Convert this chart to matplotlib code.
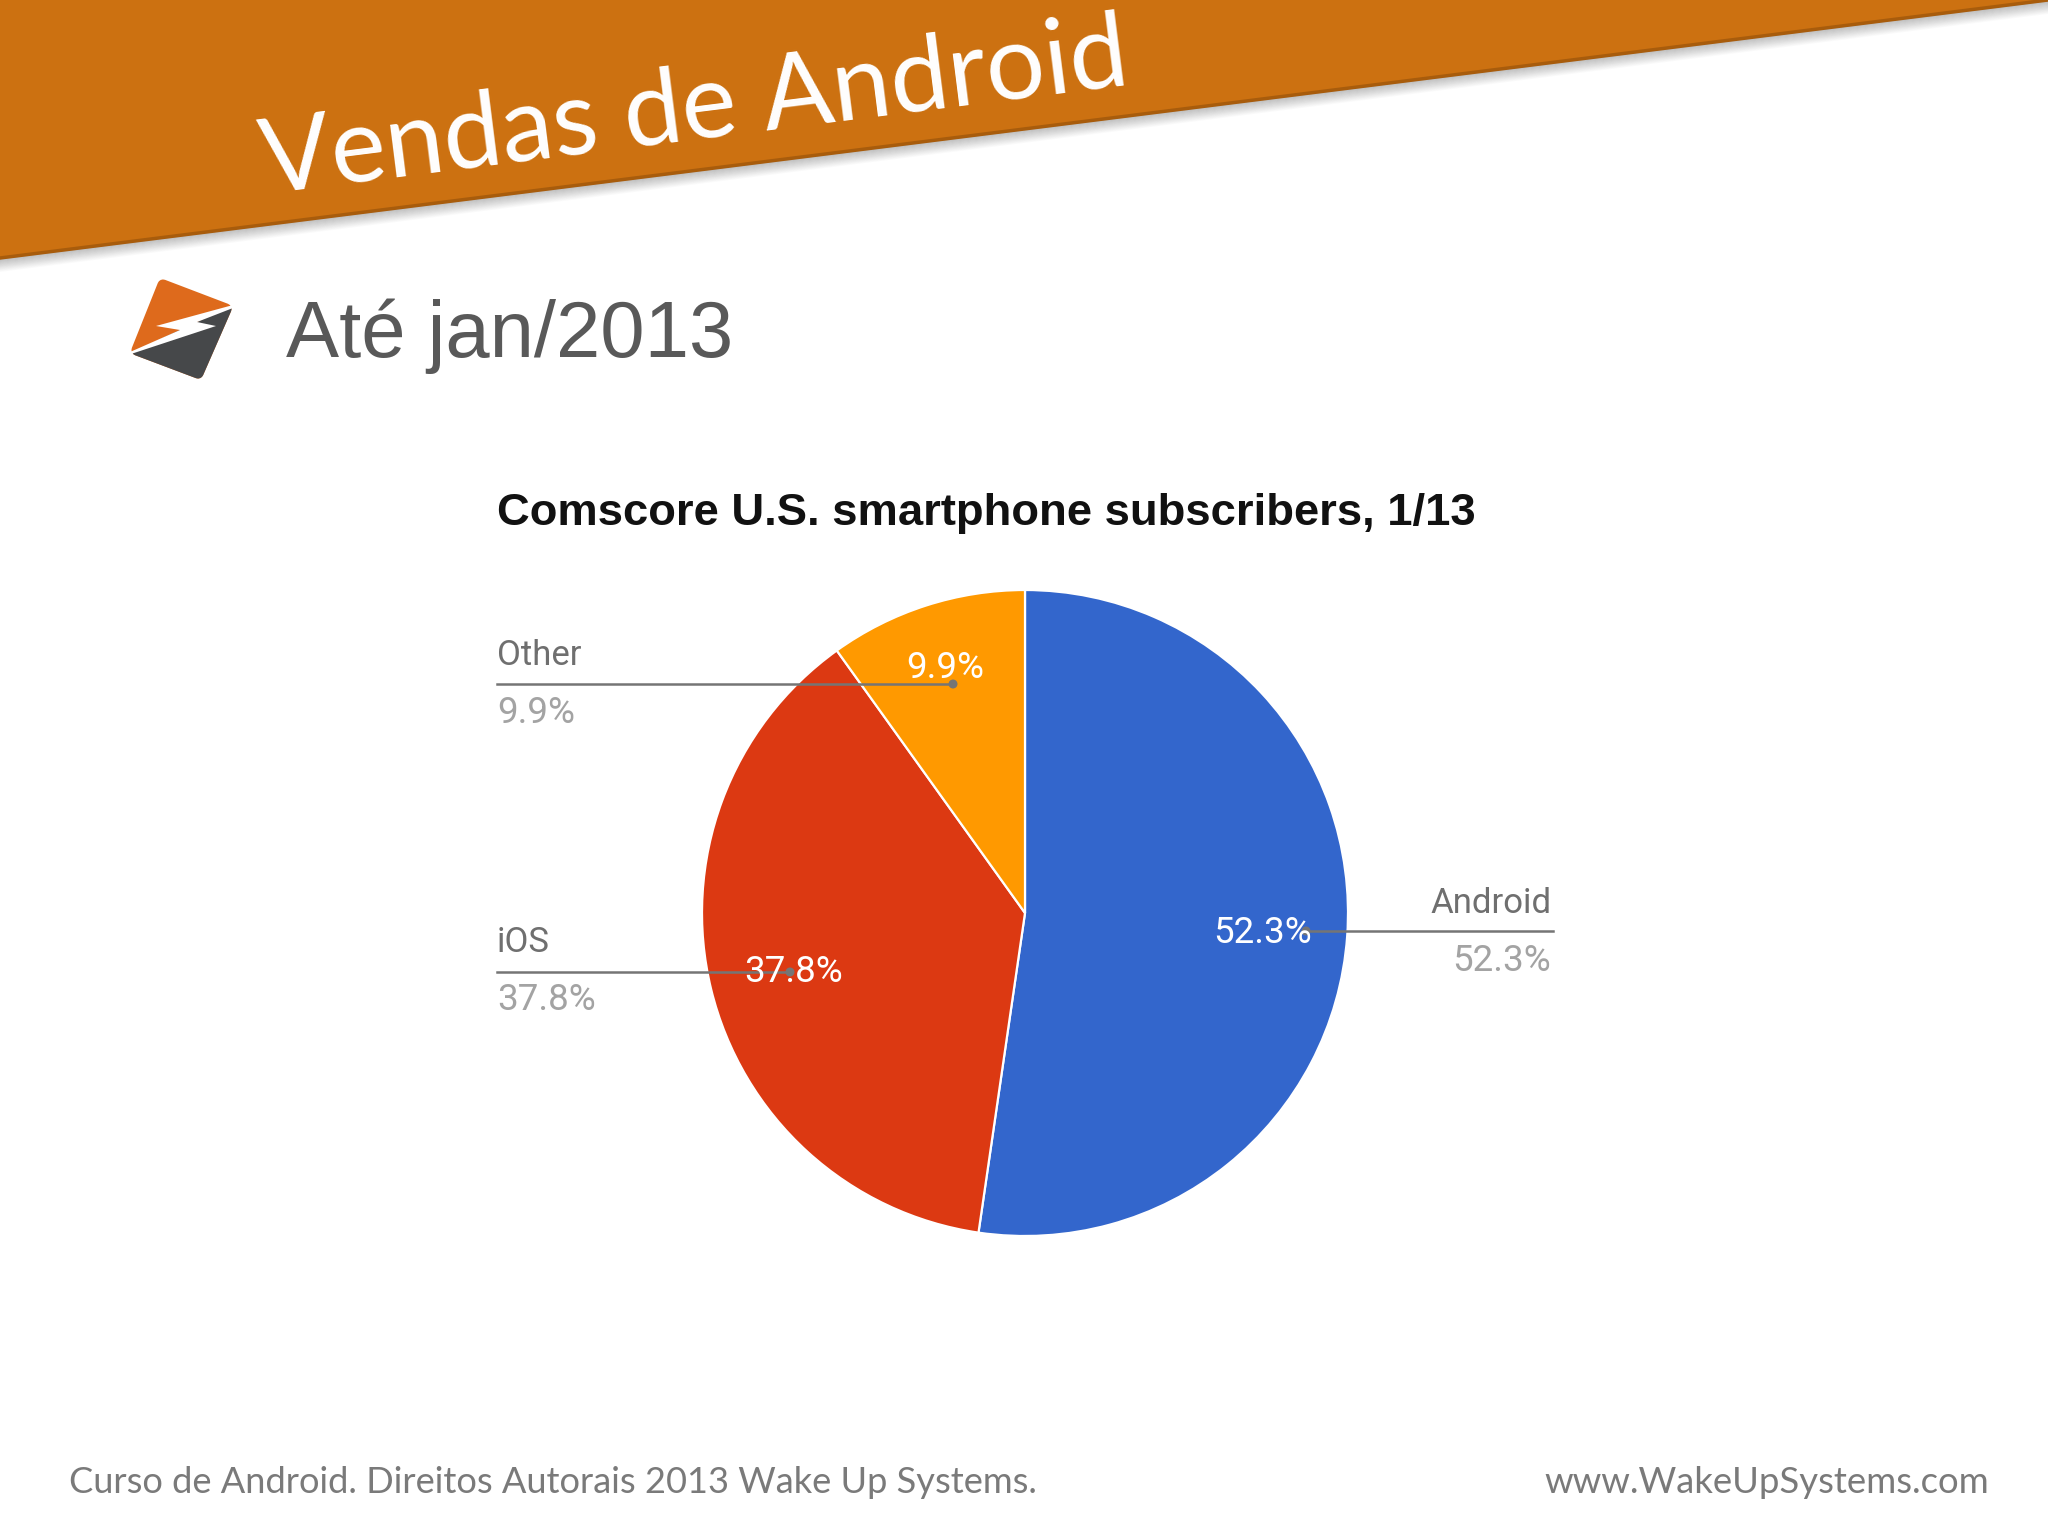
import matplotlib
matplotlib.use('Agg')
import matplotlib.pyplot as plt
from matplotlib.patches import Polygon, Circle

W, H = 2048, 1536

# dados do grafico
labels = ['Android', 'iOS', 'Other']
values = [52.3, 37.8, 9.9]
colors = ['#3366CC', '#DC3912', '#FF9900']

title = 'Vendas de Android'
subtitle = 'Até jan/2013'
chart_title = 'Comscore U.S. smartphone subscribers, 1/13'
footer_left = 'Curso de Android. Direitos Autorais 2013 Wake Up Systems.'
footer_right = 'www.WakeUpSystems.com'

fig = plt.figure(figsize=(W / 100, H / 100), dpi=100, facecolor='white')

# pizza, centro (1025, 913), raio 323 px
cx, cy, r = 1025, 913, 323
side = 2 * 1.25 * r
ax_pie = fig.add_axes([(cx - side / 2) / W, 1 - (cy + side / 2) / H, side / W, side / H])
ax_pie.pie(values, colors=colors, startangle=90, counterclock=False,
           wedgeprops={'edgecolor': 'white', 'linewidth': 1.6})

# camada em pixels para o resto do slide
ax = fig.add_axes([0, 0, 1, 1], zorder=5)
ax.set_xlim(0, W)
ax.set_ylim(H, 0)
ax.axis('off')
ax.patch.set_alpha(0)

# faixa laranja com sombra
for i in range(14):
    ax.add_patch(Polygon([(0, 258 + i), (W, 0 + i), (W, i + 1), (0, 259 + i)],
                         fc='black', ec='none', alpha=0.28 * (1 - i / 14)))
ax.add_patch(Polygon([(0, 0), (W, 0), (0, 258)], fc='#CC7111', ec='none'))
ax.plot([0, W], [258, 0], color='#A85C0C', lw=2.5)

ax.text(265, 194, title, color='white', fontsize=75, family='Lato',
        rotation=7.2, rotation_mode='anchor', ha='left', va='baseline')

# logo: losango arredondado, metade de baixo escura, raio branco por cima
diamond = [(163, 285), (226, 309), (198, 373), (137, 350)]
ax.add_patch(Polygon(diamond, fc='#DE6A1C', ec='#DE6A1C', lw=8, joinstyle='round'))
lower = ax.add_patch(Polygon(diamond, fc='#46484A', ec='#46484A', lw=8, joinstyle='round'))
clip = Polygon([(231, 306), (133, 352), (133, 420), (260, 420), (260, 306)],
               transform=ax.transData)
lower.set_clip_path(clip)
ax.add_patch(Polygon([(233, 305), (156, 326), (180, 330), (130, 352), (131, 354),
                      (216, 326), (197, 322), (233, 308)], fc='white', ec='none'))

ax.text(286, 357, subtitle, color='#595959', fontsize=57.3, family='Liberation Sans',
        ha='left', va='baseline')

ax.text(497, 525, chart_title, color='#111111', fontsize=32.7, fontweight='bold',
        family='Liberation Sans', ha='left', va='baseline')

# linhas de ligacao
line_color = '#757575'
leaders = [(497, 953, 684), (497, 790, 972), (1306, 1553, 931)]
for x0, x1, y in leaders:
    ax.plot([x0, x1], [y, y], color=line_color, lw=1.8)
ax.add_patch(Circle((953, 684), 4.5, fc=line_color, ec='none'))
ax.add_patch(Circle((790, 972), 4.5, fc=line_color, ec='none'))
ax.add_patch(Circle((1306, 931), 4.5, fc=line_color, ec='none'))

pct = ['%.1f%%' % v for v in values]
name_font = dict(fontsize=25, family='Roboto', va='baseline')
pct_font = dict(fontsize=26.5, family='Roboto', va='baseline')

# rotulos fora da pizza
ax.text(1552, 913, labels[0], color='#6f6f6f', ha='right', **name_font)
ax.text(1551, 971, pct[0], color='#a3a3a3', ha='right', **pct_font)
ax.text(497, 952, labels[1], color='#6f6f6f', ha='left', **name_font)
ax.text(497, 1010, pct[1], color='#a3a3a3', ha='left', **pct_font)
ax.text(497, 665, labels[2], color='#6f6f6f', ha='left', **name_font)
ax.text(497, 723, pct[2], color='#a3a3a3', ha='left', **pct_font)

# rotulos dentro da pizza
ax.text(1213, 943, pct[0], color='white', ha='left', **pct_font)
ax.text(744, 982, pct[1], color='white', ha='left', **pct_font)
ax.text(906, 678, pct[2], color='white', ha='left', **pct_font)

# rodape
ax.text(69, 1493, footer_left, color='#7a7a7a', fontsize=26.1, family='Lato',
        ha='left', va='baseline')
ax.text(1989, 1493, footer_right, color='#7a7a7a', fontsize=26.3, family='Lato',
        ha='right', va='baseline')

fig.savefig('out.png', dpi=100)
